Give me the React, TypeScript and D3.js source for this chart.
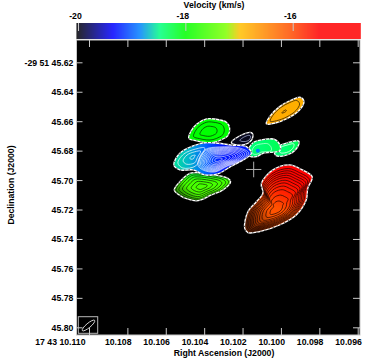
import React, { useRef, useEffect } from "react";
import * as d3 from "d3";

type Pt = [number, number];

const raTicks = [10.11, 10.108, 10.106, 10.104, 10.102, 10.1, 10.098, 10.096];
const decTicks = [45.62, 45.64, 45.66, 45.68, 45.7, 45.72, 45.74, 45.76, 45.78, 45.8];
const velTicks = [-20, -18, -16];

// velocity colour table
const velStops = [-20.03, -19.35, -18.85, -18.47, -18, -17.24, -16.98, -16.05, -15.5, -14.75];
const velColors = ["#000000", "#0000ff", "#0080ff", "#00ff80", "#00ff00", "#80ff00", "#ffc000", "#ff5000", "#ff0000", "#ff0000"];

// outlines as [RA seconds, Dec seconds]
const redOutline: Pt[] = [[10.10189, 45.7327], [10.10172, 45.7214], [10.10128, 45.7147], [10.10094, 45.7089], [10.10102, 45.7022], [10.10042, 45.6931], [10.09955, 45.6897], [10.09894, 45.6927], [10.09837, 45.6977], [10.0986, 45.7056], [10.09868, 45.7135], [10.0992, 45.7237], [10.10007, 45.7305], [10.10111, 45.735], [10.10172, 45.7357]];
const redPeak: Pt = [10.10024, 45.7203];
const redLevels = [0.2, 0.33, 0.45, 0.53, 0.6, 0.66, 0.72, 0.77, 0.82, 0.87, 0.92];

const orangeOutline: Pt[] = [[10.10076, 45.6619], [10.10059, 45.6569], [10.10007, 45.6501], [10.09946, 45.6456], [10.09898, 45.6438], [10.0988, 45.6468], [10.09903, 45.6524], [10.09964, 45.658], [10.10033, 45.6614]];
const orangePeak: Pt = [10.09984, 45.6535];
const orangeLevels = [0.12, 0.78];

const greenTopOutline: Pt[] = [[10.1048, 45.6716], [10.1047, 45.6671], [10.1044, 45.6621], [10.10388, 45.6585], [10.10345, 45.6585], [10.10284, 45.6607], [10.10267, 45.6648], [10.10276, 45.6698], [10.10302, 45.6721], [10.10345, 45.6743], [10.10388, 45.6746], [10.1044, 45.6734]];
const greenTopPeak: Pt = [10.1038, 45.6671];
const greenTopLevels = [0.42, 0.75];

const greenLowOutline: Pt[] = [[10.10556, 45.7067], [10.10527, 45.7011], [10.10475, 45.6954], [10.10432, 45.695], [10.10345, 45.6965], [10.10276, 45.6988], [10.10262, 45.7011], [10.10302, 45.7067], [10.10362, 45.7101], [10.10432, 45.714], [10.10484, 45.713], [10.10536, 45.7096]];
const greenLowPeak: Pt = [10.10414, 45.7045];
const greenLowLevels = [0.2, 0.38, 0.55, 0.7, 0.83, 0.93];

const cyanOutline: Pt[] = [[10.10172, 45.6807], [10.10146, 45.6746], [10.10085, 45.6723], [10.10033, 45.6723], [10.10005, 45.6762], [10.10005, 45.68], [10.10094, 45.6818], [10.10128, 45.6841], [10.10163, 45.6836]];
const cyanPeak: Pt = [10.1012, 45.68];
const cyanLevels = [0.6];

const lobeOutline: Pt[] = [[10.10035, 45.6785], [10.09964, 45.6746], [10.09908, 45.6734], [10.09912, 45.6773], [10.09955, 45.6823], [10.10025, 45.6834]];
const lobePeak: Pt = [10.0997, 45.6785];
const lobeLevels = [0.6];

const blueOutline: Pt[] = [[10.10558, 45.6897], [10.10527, 45.6818], [10.10458, 45.6768], [10.10388, 45.6746], [10.10328, 45.675], [10.10258, 45.6762], [10.1018, 45.6773], [10.10154, 45.6818], [10.10189, 45.6859], [10.10256, 45.6904], [10.10329, 45.6958], [10.10397, 45.6965], [10.10458, 45.6931], [10.10527, 45.6931]];
const blueRightOutline: Pt[] = [[10.10433, 45.6897], [10.10397, 45.6795], [10.10319, 45.6775], [10.10215, 45.6782], [10.10168, 45.6816], [10.10199, 45.6863], [10.10277, 45.6904], [10.10345, 45.6945], [10.10407, 45.6931]];
const blueRightPeak: Pt = [10.10329, 45.6863];
const blueRightLevels = [0.15, 0.28, 0.4, 0.5, 0.58, 0.66, 0.73, 0.8, 0.87, 0.94, 1];
const blueLeftOutline: Pt[] = [[10.10537, 45.6884], [10.10506, 45.6823], [10.10444, 45.6789], [10.10397, 45.6782], [10.10423, 45.685], [10.10444, 45.6904], [10.10511, 45.6918]];
const blueLeftPeak: Pt = [10.10459, 45.6843];
const blueLeftLevels = [0.2, 0.65, 1];

const tipOutline: Pt[] = [[10.10258, 45.6746], [10.10206, 45.6694], [10.10154, 45.6678], [10.10146, 45.6705], [10.10172, 45.675], [10.10225, 45.6762]];
const tipPeak: Pt = [10.1017, 45.6715];
const tipLevels = [0.5];

const crossCentre: Pt = [10.10142, 45.6928];
const crossArm: Pt = [0.0004, 0.0053];

const App = () => {
  const ref = useRef<SVGSVGElement>(null);

  useEffect(() => {
    const svg = d3.select(ref.current);
    svg.selectAll("*").remove();

    const font = "'Liberation Sans', Arial, sans-serif";
    const frame = { left: 76.5, right: 360, top: 40, bottom: 335 };
    const wedge = { top: 23, bottom: 39 };
    const tickColor = "#c8c8c8";

    const x = d3.scaleLinear().domain([10.11, 10.096]).range([89, 357.7]);
    const y = d3.scaleLinear().domain([45.62, 45.8]).range([62.3, 327.3]);
    const v = d3.scaleLinear().domain([-20, -16]).range([78, 292.7]);
    const velColor = d3
      .scaleLinear<string>()
      .domain(velStops)
      .range(velColors)
      .clamp(true);

    // wedge
    const wedgeG = svg.append("g");
    d3.range(frame.left, frame.right, 1).forEach((px) => {
      wedgeG
        .append("rect")
        .attr("x", px)
        .attr("y", wedge.top)
        .attr("width", 1.2)
        .attr("height", wedge.bottom - wedge.top)
        .attr("fill", velColor(v.invert(px + 0.5)));
    });
    const velAxis = svg
      .append("g")
      .attr("transform", `translate(0,${wedge.top})`)
      .call(d3.axisBottom(v).tickValues(velTicks).tickSize(8).tickFormat(d3.format("d") as any));
    velAxis.select(".domain").remove();
    velAxis.selectAll("line").attr("stroke", tickColor);
    velAxis
      .selectAll("text")
      .attr("y", -4)
      .attr("dy", 0)
      .attr("dx", -3)
      .attr("fill", "#000")
      .style("font", `bold 8.7px ${font}`)
      .text((d: any) => (d < 0 ? "-" : "") + Math.abs(d));

    // image background
    svg
      .append("rect")
      .attr("x", frame.left)
      .attr("y", frame.top)
      .attr("width", frame.right - frame.left)
      .attr("height", frame.bottom - frame.top)
      .attr("fill", "#000");

    const defs = svg.append("defs");
    const gradient = (id: string, dir: number[], vels: number[]) => {
      const g = defs
        .append("linearGradient")
        .attr("id", id)
        .attr("x1", dir[0])
        .attr("y1", dir[1])
        .attr("x2", dir[2])
        .attr("y2", dir[3]);
      vels.forEach((val, i) => {
        g.append("stop")
          .attr("offset", i / (vels.length - 1))
          .attr("stop-color", velColor(val));
      });
    };
    gradient("redFill", [0.7, 0, 0.35, 0.8], [-15.5, -15.55, -15.75, -16.05, -16.1]);
    gradient("orangeFill", [0, 1, 1, 0], [-16.8, -16.85]);
    gradient("greenTopFill", [0, 0, 1, 1], [-18, -18]);
    gradient("greenLowFill", [0.5, 0, 0.5, 0.6], [-18.2, -17.6, -17.55]);
    gradient("cyanFill", [0, 0, 1, 0], [-18.45, -18.4, -18.3]);
    gradient("blueFill", [0, 0, 1, 0], [-18.55, -18.7, -18.95, -19.25, -19.3, -19.2]);

    const shade = defs
      .append("linearGradient")
      .attr("id", "shade")
      .attr("x1", 0)
      .attr("y1", 0.8)
      .attr("x2", 0.32)
      .attr("y2", 0.6);
    shade.append("stop").attr("offset", 0).attr("stop-color", "#000").attr("stop-opacity", 0.65);
    shade.append("stop").attr("offset", 1).attr("stop-color", "#000").attr("stop-opacity", 0);

    const line = d3
      .line<Pt>()
      .x((d) => x(d[0]))
      .y((d) => y(d[1]))
      .curve(d3.curveCatmullRomClosed.alpha(0.5));

    const toward = (pts: Pt[], peak: Pt, k: number): Pt[] =>
      pts.map((p) => [peak[0] + (p[0] - peak[0]) * k, peak[1] + (p[1] - peak[1]) * k]);

    const plot = svg.append("g");

    const outlineOf = (pts: Pt[]) => {
      plot.append("path").attr("d", line(pts)).attr("fill", "none").attr("stroke", "#fff").attr("stroke-width", 1.3);
      plot
        .append("path")
        .attr("d", line(pts))
        .attr("fill", "none")
        .attr("stroke", "#555")
        .attr("stroke-width", 1.3)
        .attr("stroke-dasharray", "1.2 3");
    };

    const blob = (
      pts: Pt[],
      peak: Pt,
      levels: number[],
      fill: string,
      stroke: string,
      width = 0.8,
      overlay = false
    ) => {
      plot.append("path").attr("d", line(pts)).attr("fill", fill);
      if (overlay) plot.append("path").attr("d", line(pts)).attr("fill", "url(#shade)");
      levels.forEach((k) => {
        plot
          .append("path")
          .attr("d", line(toward(pts, peak, k)))
          .attr("fill", "none")
          .attr("stroke", stroke)
          .attr("stroke-width", width);
      });
      outlineOf(pts);
    };

    blob(redOutline, redPeak, redLevels, "url(#redFill)", "#1a0500", 0.7, true);
    blob(orangeOutline, orangePeak, orangeLevels, "url(#orangeFill)", "#3a2400");
    blob(greenTopOutline, greenTopPeak, greenTopLevels, "url(#greenTopFill)", "#063a06");
    blob(greenLowOutline, greenLowPeak, greenLowLevels, "url(#greenLowFill)", "#062006", 0.7, true);
    blob(lobeOutline, lobePeak, lobeLevels, "url(#cyanFill)", "#eafff4");
    blob(tipOutline, tipPeak, tipLevels, "#08081c", "#cfd8ff", 0.6);
    blob(cyanOutline, cyanPeak, cyanLevels, "url(#cyanFill)", "#eafff4", 0.6);
    plot
      .append("circle")
      .attr("cx", x(cyanPeak[0]))
      .attr("cy", y(cyanPeak[1]))
      .attr("r", 2)
      .attr("fill", velColor(-18.85));
    blob(blueOutline, blueRightPeak, [], "url(#blueFill)", "#fff");
    blueRightLevels.forEach((k) => {
      plot
        .append("path")
        .attr("d", line(toward(blueRightOutline, blueRightPeak, k)))
        .attr("fill", "none")
        .attr("stroke", "#fff")
        .attr("stroke-opacity", 0.85)
        .attr("stroke-width", 0.7);
    });
    blueLeftLevels.forEach((k) => {
      plot
        .append("path")
        .attr("d", line(toward(blueLeftOutline, blueLeftPeak, k)))
        .attr("fill", "none")
        .attr("stroke", "#fff")
        .attr("stroke-width", 0.7);
    });

    // cross
    const crossG = svg.append("g").attr("stroke", "#b0b0b0").attr("stroke-width", 1);
    crossG
      .append("line")
      .attr("x1", x(crossCentre[0] + crossArm[0]))
      .attr("x2", x(crossCentre[0] - crossArm[0]))
      .attr("y1", y(crossCentre[1]))
      .attr("y2", y(crossCentre[1]));
    crossG
      .append("line")
      .attr("x1", x(crossCentre[0]))
      .attr("x2", x(crossCentre[0]))
      .attr("y1", y(crossCentre[1] - crossArm[1]))
      .attr("y2", y(crossCentre[1] + crossArm[1]));

    // beam
    svg
      .append("rect")
      .attr("x", 78.3)
      .attr("y", 316.7)
      .attr("width", 19.4)
      .attr("height", 16.6)
      .attr("fill", "none")
      .attr("stroke", "#b8b8b8");
    svg
      .append("ellipse")
      .attr("transform", "translate(88.5,325.5) rotate(-40)")
      .attr("rx", 8)
      .attr("ry", 2.2)
      .attr("fill", "none")
      .attr("stroke", "#d8d8d8")
      .attr("stroke-width", 0.9);

    // frame and ticks
    const styleAxis = (g: any) => {
      g.select(".domain").remove();
      g.selectAll("line").attr("stroke", tickColor);
    };
    const raFormat = (d: any, i: number) => (i === 0 ? "17 43 " : "") + d3.format(".3f")(d);
    const decFormat = (d: any, i: number) => (i === 0 ? "-29 51 " : "") + d3.format(".2f")(d);

    svg
      .append("g")
      .attr("transform", `translate(0,${frame.top})`)
      .call(d3.axisBottom(x).tickValues(raTicks).tickSize(7).tickFormat(() => ""))
      .call(styleAxis);
    const raAxis = svg
      .append("g")
      .attr("transform", `translate(0,${frame.bottom})`)
      .call(d3.axisTop(x).tickValues(raTicks).tickSize(7).tickFormat(raFormat as any))
      .call(styleAxis);
    raAxis
      .selectAll("text")
      .attr("y", 10)
      .attr("dy", 0)
      .attr("text-anchor", "end")
      .attr("dx", 3.6)
      .attr("fill", "#000")
      .style("font", `bold 8.7px ${font}`);
    raAxis.selectAll("text").filter((_d, i) => i === 0).attr("dx", -4);

    const decAxis = svg
      .append("g")
      .attr("transform", `translate(${frame.left},0)`)
      .call(d3.axisRight(y).tickValues(decTicks).tickSize(6).tickFormat(decFormat as any))
      .call(styleAxis);
    decAxis
      .selectAll("text")
      .attr("x", -3.2)
      .attr("dy", 3)
      .attr("text-anchor", "end")
      .attr("fill", "#000")
      .style("font", `bold 8.7px ${font}`);

    svg
      .append("g")
      .attr("transform", `translate(${frame.right},0)`)
      .call(d3.axisLeft(y).tickValues(decTicks).tickSize(7).tickFormat(() => ""))
      .call(styleAxis);

    svg
      .append("rect")
      .attr("x", frame.left)
      .attr("y", frame.top)
      .attr("width", frame.right - frame.left)
      .attr("height", frame.bottom - frame.top)
      .attr("fill", "none")
      .attr("stroke", tickColor);

    // titles
    const title = (text: string, tx: number, ty: number, rotate = 0) =>
      svg
        .append("text")
        .attr("transform", `translate(${tx},${ty}) rotate(${rotate})`)
        .attr("text-anchor", "middle")
        .style("font", `bold 8.7px ${font}`)
        .text(text);
    title("Velocity (km/s)", 214, 7.5);
    title("Right Ascension (J2000)", 224, 355.5);
    title("Declination (J2000)", 14, 185, -90);
  }, []);

  return (
    <svg
      ref={ref}
      width={366}
      height={358}
      style={{ position: "absolute", left: 0, top: 0, background: "#fff" }}
    />
  );
};

export default App;
